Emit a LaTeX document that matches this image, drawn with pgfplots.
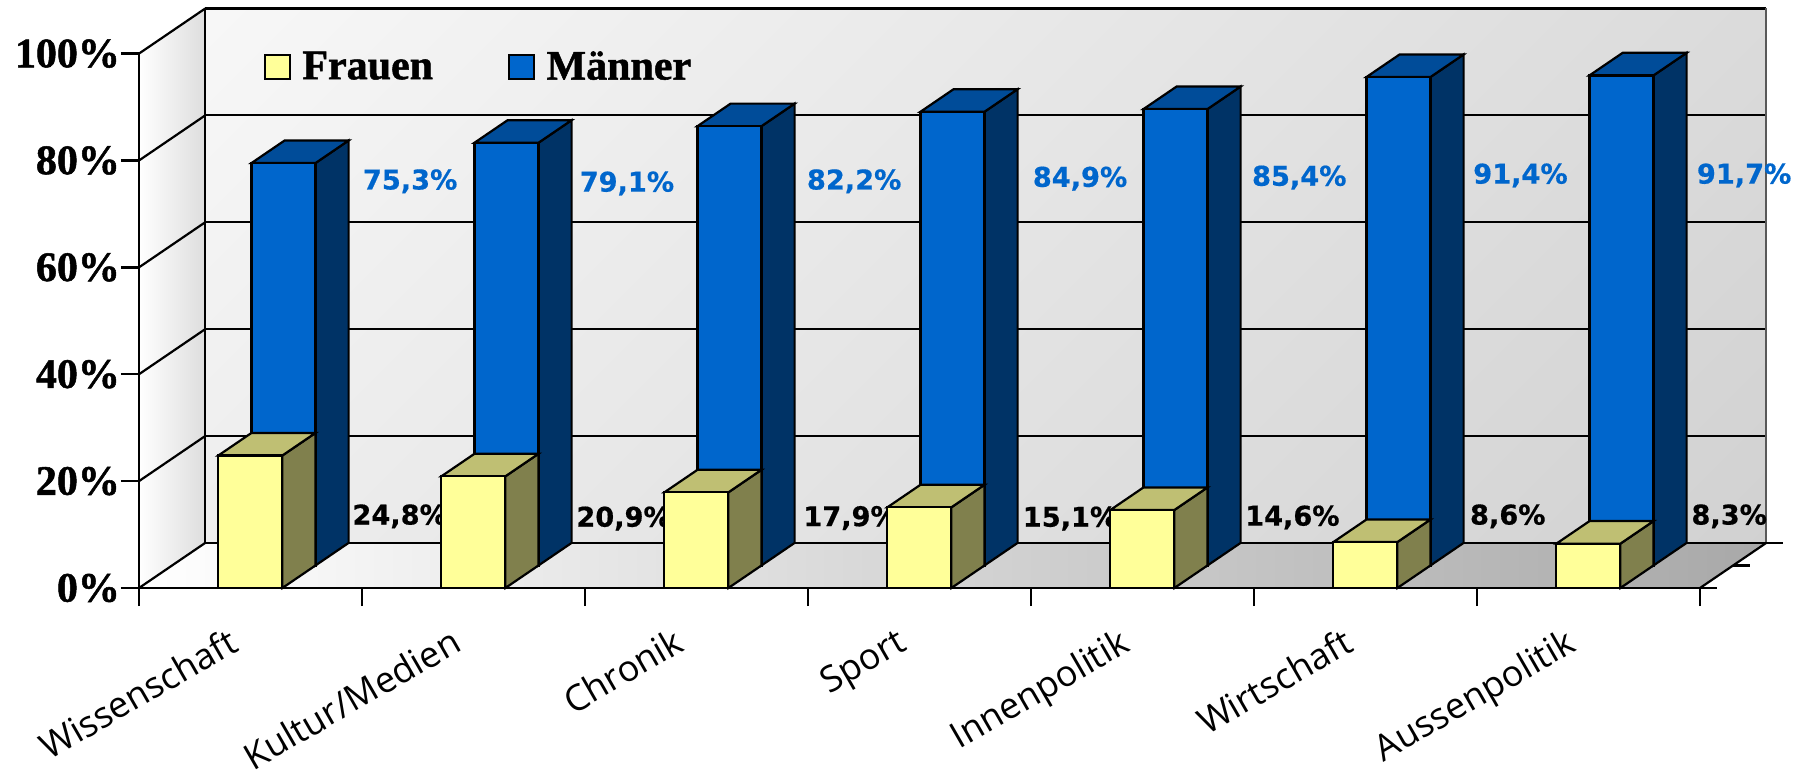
\documentclass[border=0pt]{standalone}
\usepackage{fontspec}
\setmainfont{Open Sans}
\newfontfamily\serifbold{Liberation Serif}[BoldFont=Liberation Serif Bold,BoldFeatures={FakeBold=1.2}]
\newfontfamily\sansbold{DejaVu Sans}[BoldFeatures={FakeBold=0.5}]
\usepackage{pgfplots}
\pgfplotsset{compat=1.18}
\definecolor{mf}{HTML}{0066CC}
\definecolor{ms}{HTML}{003366}
\definecolor{mt}{HTML}{004C99}
\definecolor{ff}{HTML}{FFFF99}
\definecolor{fs}{HTML}{80804D}
\definecolor{ft}{HTML}{BFBF73}
\pgfdeclarehorizontalshading{wallshade}{100bp}{color(0bp)=(white); color(100bp)=(black!21)}
\newcommand{\lab}{\sansbold\bfseries\fontsize{13.6}{15}\selectfont}
\newcommand{\drawbar}[6]{% cat, depth-start(0/1), value, front, side, top
  \pgfmathsetmacro{\xl}{#1+.356+#2*.1485}
  \pgfmathsetmacro{\xr}{#1+.643+#2*.1485}
  \pgfmathsetmacro{\xlb}{\xl+.1485}
  \pgfmathsetmacro{\xrb}{\xr+.1485}
  \pgfmathsetmacro{\yb}{#2*4.22}
  \pgfmathsetmacro{\yt}{\yb+#3}
  \pgfmathsetmacro{\ybb}{\yb+4.22}
  \pgfmathsetmacro{\ytb}{\yt+4.22}
  \edef\temp{%
    \noexpand\addplot[forget plot,fill=#5,draw=black,line width=1.1pt] coordinates {(\xr,\yb)(\xrb,\ybb)(\xrb,\ytb)(\xr,\yt)} -- cycle;
    \noexpand\addplot[forget plot,fill=#6,draw=black,line width=1.1pt] coordinates {(\xl,\yt)(\xr,\yt)(\xrb,\ytb)(\xlb,\ytb)} -- cycle;
    \noexpand\addplot[forget plot,fill=#4,draw=black,line width=1.1pt] coordinates {(\xl,\yb)(\xr,\yb)(\xr,\yt)(\xl,\yt)} -- cycle;
  }\temp
}
\begin{document}
\begin{tikzpicture}
\useasboundingbox (-69.5pt,-91.5pt) rectangle (839.5pt,294pt);
\begin{axis}[
  at={(0,0)}, anchor=south west,
  scale only axis, width=780.5pt, height=267.2pt,
  xmin=0, xmax=7, ymin=0, ymax=100,
  clip=false, axis on top,
  axis x line*=bottom, axis y line*=left,
  axis line style={line width=1.2pt,black},
  tick align=outside,
  tick style={line width=1.2pt,black},
  major tick length=9pt,
  xtick={0,1,2,3,4,5,6,7}, xticklabels={},
  extra x ticks={.33,1.33,2.33,3.33,4.33,5.33,6.33},
  extra x tick labels={Wissenschaft,Kultur/Medien,Chronik,Sport,Innenpolitik,Wirtschaft,Aussenpolitik},
  extra x tick style={major tick length=0pt,
     xticklabel style={rotate=30,anchor=north east,font=\fontsize{18}{20}\selectfont,yshift=-16.5pt}},
  ytick={0,20,40,60,80,100},
  yticklabel={\pgfmathprintnumber{\tick}\%},
  yticklabel style={font=\serifbold\bfseries\fontsize{21}{24}\selectfont,/pgf/number format/assume math mode=true,xshift=3pt},
  legend columns=2,
  legend style={at={(axis cs:.56,97.5)},anchor=west,draw=none,fill=none,
    font=\serifbold\bfseries\fontsize{21}{24}\selectfont,inner sep=0pt,outer sep=0pt,
    /tikz/every even column/.append style={column sep=35.5pt}},
  legend image code/.code={\draw[#1,line width=1.1pt] (0pt,-6pt) rectangle (12.5pt,6pt); \path (16.5pt,0pt);},
]
% walls and floor
\addplot[forget plot,draw=none,shading=wallshade,shading angle=-45] coordinates {(.297,8.44)(7.297,8.44)(7.297,108.44)(.297,108.44)} -- cycle;
\addplot[forget plot,draw=none,left color=white,right color=black!13] coordinates {(0,0)(.297,8.44)(.297,108.44)(0,100)} -- cycle;
\addplot[forget plot,draw=none,left color=white,right color=black!34] coordinates {(0,0)(7,0)(7.297,8.44)(.297,8.44)} -- cycle;
% gridlines
\pgfplotsinvokeforeach{0,20,40,60,80,100}{
  \addplot[forget plot,black,line width=1.1pt] coordinates {(0,#1)(.297,#1+8.44)};
}
\addplot[forget plot,black,line width=1.1pt] coordinates {(.297,8.44)(7.297,8.44)};
\addplot[forget plot,black,line width=1.1pt] coordinates {(.297,28.44)(7.297,28.44)};
\addplot[forget plot,black,line width=1.1pt] coordinates {(.297,48.44)(7.297,48.44)};
\addplot[forget plot,black,line width=1.1pt] coordinates {(.297,68.44)(7.297,68.44)};
\addplot[forget plot,black,line width=1.1pt] coordinates {(.297,88.44)(7.297,88.44)};
\addplot[forget plot,black,line width=1.6pt] coordinates {(.297,108.44)(7.297,108.44)};
\addplot[forget plot,black,line width=1.1pt] coordinates {(.297,8.44)(.297,108.44)};
\addplot[forget plot,black!65,line width=1.2pt] coordinates {(7.297,8.44)(7.297,108.44)};
\addplot[forget plot,black,line width=1.1pt] coordinates {(7,0)(7.297,8.44)};
\addplot[forget plot,black,line width=1.2pt] coordinates {(7,0)(7.076,0)};
\addplot[forget plot,black,line width=1.1pt] coordinates {(7.1485,4.22)(7.2245,4.22)};
\addplot[forget plot,black,line width=1.1pt] coordinates {(7.297,8.44)(7.373,8.44)};
% data labels
\node[font=\lab,text=mf] at (axis cs:1.216,76.1) {75,3\%};
\node[font=\lab,text=mf] at (axis cs:2.188,75.7) {79,1\%};
\node[font=\lab,text=mf] at (axis cs:3.207,76.1) {82,2\%};
\node[font=\lab,text=mf] at (axis cs:4.22,76.6) {84,9\%};
\node[font=\lab,text=mf] at (axis cs:5.203,76.8) {85,4\%};
\node[font=\lab,text=mf] at (axis cs:6.195,77.2) {91,4\%};
\node[font=\lab,text=mf] at (axis cs:7.198,77.2) {91,7\%};
\node[font=\lab] at (axis cs:1.169,13.4) {24,8\%};
\node[font=\lab] at (axis cs:2.173,13) {20,9\%};
\node[font=\lab] at (axis cs:3.191,13.1) {17,9\%};
\node[font=\lab] at (axis cs:4.175,13) {15,1\%};
\node[font=\lab] at (axis cs:5.172,13.2) {14,6\%};
\node[font=\lab] at (axis cs:6.138,13.4) {8,6\%};
\node[font=\lab] at (axis cs:7.131,13.4) {8,3\%};
% bars
\foreach \i/\f/\m in {0/24.8/75.3,1/20.9/79.1,2/17.9/82.2,3/15.1/84.9,4/14.6/85.4,5/8.6/91.4,6/8.3/91.7}{
  \drawbar{\i}{1}{\m}{mf}{ms}{mt}
  \drawbar{\i}{0}{\f}{ff}{fs}{ft}
}
\addlegendimage{fill=ff,draw=black}
\addlegendimage{fill=mf,draw=black}
\legend{Frauen,Männer}
\end{axis}
\end{tikzpicture}
\end{document}
